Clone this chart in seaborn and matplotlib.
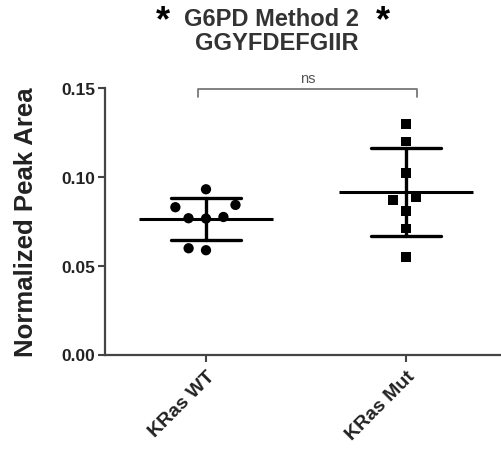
import matplotlib
matplotlib.use("Agg")
import matplotlib.pyplot as plt
import seaborn as sns
import pandas as pd
import numpy as np

# Normalized peak area per sample
groups = ["KRas WT", "KRas Mut"]
wt_values = [0.0930, 0.0829, 0.0842, 0.0767, 0.0765, 0.0774, 0.0587, 0.0598]
mut_values = [0.1297, 0.1199, 0.1021, 0.0884, 0.0870, 0.0808, 0.0709, 0.0549]
y_ticks = [0.00, 0.05, 0.10, 0.15]
y_ticklabels = ["0.00", "0.05", "0.10", "0.15"]

df = pd.DataFrame({
    "group": [groups[0]] * len(wt_values) + [groups[1]] * len(mut_values),
    "value": wt_values + mut_values,
})

sns.set_theme(style="ticks")
plt.rcParams["font.family"] = ["Liberation Sans", "DejaVu Sans"]

W, H = 501, 456
fig = plt.figure(figsize=(W / 100, H / 100), dpi=100)
ax = fig.add_axes([105 / W, 1 - 355.5 / H, 396 / W, (355.5 - 89) / H])
ax.set_xlim(-0.505, 1.475)
ax.set_ylim(0, 0.15)

# mean and SD bars
sns.pointplot(data=df, x="group", y="value", order=groups, errorbar="sd",
              estimator="mean", linestyle="none", marker="_", markersize=97,
              markeredgewidth=2.2, color="black", capsize=0.35,
              err_kws={"linewidth": 2.4}, ax=ax)

# individual samples; an invisible edge keeps extra room between swarm points
sns.swarmplot(data=df[df.group == groups[0]], x="group", y="value", order=groups,
              marker="o", size=7.4, color="black", linewidth=4.6,
              edgecolor="none", ax=ax)
sns.swarmplot(data=df[df.group == groups[1]], x="group", y="value", order=groups,
              marker="s", size=7.0, color="black", linewidth=4.8,
              edgecolor="none", ax=ax)
ax.set_xlim(-0.505, 1.475)

ax.set_yticks(y_ticks)
ax.set_yticklabels(y_ticklabels)
ax.set_xlabel("")
ax.set_ylabel("Normalized Peak Area", fontsize=18.5, fontweight="bold",
              color="#222222")
ax.yaxis.set_label_coords(-(105 - 38) / 396, 0.50)

for lab in ax.get_yticklabels():
    lab.set_fontweight("bold")
    lab.set_fontsize(12.5)
    lab.set_color("#222222")
for lab in ax.get_xticklabels():
    lab.set_fontweight("bold")
    lab.set_fontsize(14)
    lab.set_color("#222222")
    lab.set_rotation(45)
    lab.set_ha("right")
    lab.set_rotation_mode("anchor")

sns.despine(ax=ax)
for side in ("left", "bottom"):
    ax.spines[side].set_linewidth(1.6)
    ax.spines[side].set_color("#444444")
ax.tick_params(axis="both", length=5, width=1.5, color="#444444")
ax.tick_params(axis="y", pad=2)
ax.tick_params(axis="x", pad=4)

# significance bracket
bx0, bx1, by, bh = -0.04, 1.055, 0.1493, 0.0042
ax.plot([bx0, bx0, bx1, bx1], [by - bh, by, by, by - bh], color="#777777",
        lw=1.3, clip_on=False)
ax.text((bx0 + bx1) / 2, by + 0.0025, "ns", ha="center", va="bottom",
        fontsize=10.5, color="#555555")

# title
fig.text(272 / W, 1 - 19 / H, "G6PD Method 2", ha="center", va="center",
         fontsize=17, fontweight="bold", color="#333333")
fig.text(277 / W, 1 - 44 / H, "GGYFDEFGIIR", ha="center", va="center",
         fontsize=17, fontweight="bold", color="#333333")
fig.text(163 / W, 1 - 22 / H, "*", ha="center", va="center",
         fontsize=26, fontweight="bold", color="black")
fig.text(383 / W, 1 - 22 / H, "*", ha="center", va="center",
         fontsize=26, fontweight="bold", color="black")

fig.savefig("out.png", dpi=100, facecolor="white")
